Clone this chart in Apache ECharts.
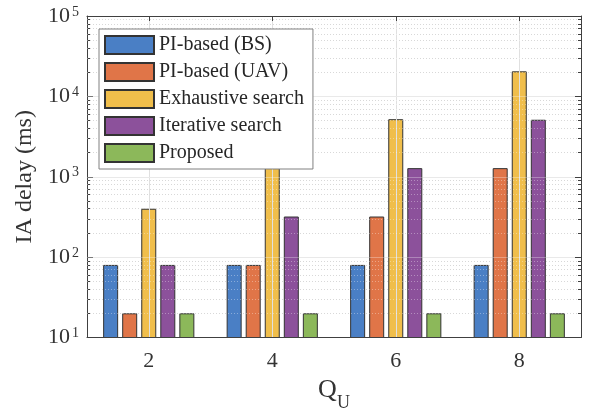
<!DOCTYPE html>
<html>
<head>
<meta charset="utf-8">
<script src="https://cdn.jsdelivr.net/npm/echarts@6/dist/echarts.min.js"></script>
<style>
  html, body { margin: 0; padding: 0; background: #fff; }
  #chart { width: 592px; height: 413px; }
</style>
</head>
<body>
<div id="chart"></div>
<script>
// 数据
const categories = ['2', '4', '6', '8'];
const seriesNames = ['PI-based (BS)', 'PI-based (UAV)', 'Exhaustive search', 'Iterative search', 'Proposed'];
const piBS = [80, 80, 80, 80];
const piUAV = [20, 80, 320, 1280];
const exhaustive = [400, 1360, 5200, 20500];
const iterative = [80, 320, 1280, 5120];
const proposed = [20, 20, 20, 20];
const seriesData = [piBS, piUAV, exhaustive, iterative, proposed];
const colors = ['#4A7FC5', '#E07548', '#F0BE4B', '#8C519B', '#8CB85A'];

const font = 'Liberation Serif';
const textColor = '#333';
const axisColor = '#404040';

let myChart = echarts.init(document.getElementById('chart'));

// 柱子
let bars = seriesData.map(function (d, i) {
  return {
    name: seriesNames[i],
    type: 'bar',
    data: d,
    barWidth: 15,
    barGap: '27%',
    itemStyle: {
      color: colors[i],
      borderColor: '#333',
      borderWidth: 1
    }
  };
});

// 竖向网格线（在刻度中心）
let vGrid = {
  name: 'vgrid',
  type: 'line',
  data: [],
  z: 1,
  markLine: {
    silent: true,
    symbol: 'none',
    label: { show: false },
    lineStyle: { color: '#e0e0e0', width: 1, type: 'solid' },
    data: categories.map(function (c) { return { xAxis: c }; })
  }
};

let yLabel = function (v) {
  return '{b|10}{s|' + Math.round(Math.log10(v)) + '}';
};

let option = {
  animation: false,
  textStyle: { fontFamily: font },
  grid: { left: 87, right: 11, top: 16, bottom: 75.5, containLabel: false, outerBoundsMode: 'none' },
  legend: {
    data: seriesNames,
    orient: 'vertical',
    left: 99,
    top: 29,
    z: 20,
    icon: 'rect',
    itemWidth: 49,
    itemHeight: 18,
    itemGap: 7,
    padding: [6, 9, 6, 5],
    backgroundColor: '#fff',
    borderColor: '#808080',
    borderWidth: 1,
    textStyle: { fontFamily: font, fontSize: 20, color: '#262626', lineHeight: 18 }
  },
  xAxis: [
    {
      type: 'category',
      data: categories,
      position: 'bottom',
      z: 10,
      axisLine: { lineStyle: { color: axisColor, width: 1 } },
      axisTick: { inside: true, alignWithLabel: true, length: 5, lineStyle: { color: axisColor } },
      axisLabel: { fontFamily: font, fontSize: 22, color: textColor, margin: 13 },
      name: '{q|Q}{u|U}',
      nameLocation: 'middle',
      nameGap: 40,
      nameTextStyle: {
        rich: {
          q: { fontFamily: font, fontSize: 26, lineHeight: 26, color: textColor, verticalAlign: 'top' },
          u: { fontFamily: font, fontSize: 18, lineHeight: 52, color: textColor, verticalAlign: 'middle' }
        }
      }
    },
    {
      type: 'category',
      data: categories,
      position: 'top',
      z: 10,
      axisLine: { show: true, lineStyle: { color: axisColor, width: 1 } },
      axisTick: { show: true, inside: true, alignWithLabel: true, length: 5, lineStyle: { color: axisColor } },
      axisLabel: { show: false }
    }
  ],
  yAxis: [
    {
      type: 'log',
      logBase: 10,
      min: 10,
      max: 100000,
      position: 'left',
      axisLine: { show: true, lineStyle: { color: axisColor, width: 1 } },
      axisTick: { show: true, inside: true, length: 6, lineStyle: { color: axisColor } },
      minorTick: { show: true, splitNumber: 9, length: 3, lineStyle: { color: axisColor } },
      splitLine: { show: true, lineStyle: { color: '#e0e0e0', width: 1 } },
      minorSplitLine: { show: true, lineStyle: { color: '#c4c4c4', width: 1, type: [1, 2] } },
      axisLabel: {
        formatter: yLabel,
        margin: 8,
        rich: {
          b: { fontFamily: font, fontSize: 22, lineHeight: 22, color: textColor, verticalAlign: 'bottom', padding: [3, 0, 0, 0] },
          s: { fontFamily: font, fontSize: 14, lineHeight: 14, color: textColor, verticalAlign: 'top', padding: [0, 0, 0, 2] }
        }
      },
      name: 'IA delay (ms)',
      nameLocation: 'middle',
      nameGap: 50,
      nameTextStyle: { fontFamily: font, fontSize: 24, color: textColor }
    },
    {
      // 右侧坐标轴，同时把网格线叠在柱子上
      type: 'log',
      logBase: 10,
      min: 10,
      max: 100000,
      position: 'right',
      z: 10,
      axisLine: { show: true, lineStyle: { color: axisColor, width: 1 } },
      axisTick: { show: true, inside: true, length: 6, lineStyle: { color: axisColor } },
      minorTick: { show: true, splitNumber: 9, length: 3, lineStyle: { color: axisColor } },
      splitLine: { show: true, lineStyle: { color: 'rgba(255,255,255,0.3)', width: 1 } },
      minorSplitLine: { show: true, lineStyle: { color: 'rgba(255,255,255,0.35)', width: 1, type: [1, 2] } },
      axisLabel: { show: false }
    }
  ],
  series: [vGrid].concat(bars)
};

option && myChart.setOption(option);
</script>
</body>
</html>
